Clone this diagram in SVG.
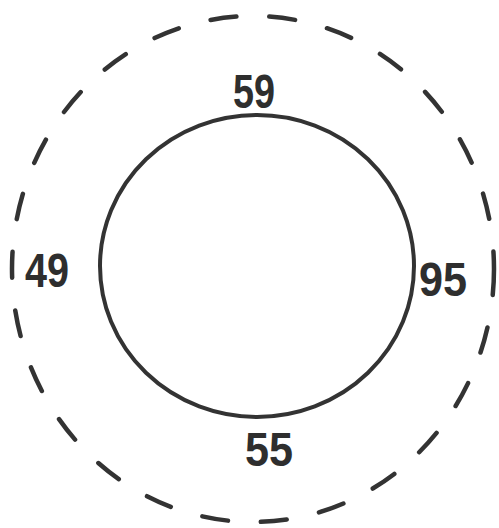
<svg xmlns="http://www.w3.org/2000/svg" width="499" height="528" viewBox="0 0 499 528">
<style>
.t{font-family:"Liberation Sans",Arial,sans-serif;font-weight:bold;font-size:49px;fill:#2e2e2e;text-anchor:middle}
.s{fill:none;stroke:#333;stroke-width:4}
.d{fill:none;stroke:#333;stroke-width:4.5;stroke-dasharray:26 33;stroke-linecap:round}
</style>
<rect width="499" height="528" fill="#fff"/>
<g id="outer"><ellipse class="d" cx="253" cy="269" rx="241" ry="253"/></g>
<g id="inner"><ellipse class="s" cx="257" cy="266" rx="157" ry="151"/></g>
<g id="labels">
<text class="t" x="254" y="108" textLength="42" lengthAdjust="spacingAndGlyphs">59</text>
<text class="t" x="47" y="287" textLength="44" lengthAdjust="spacingAndGlyphs">49</text>
<text class="t" x="443" y="296" textLength="48" lengthAdjust="spacingAndGlyphs">95</text>
<text class="t" x="269" y="466" textLength="48" lengthAdjust="spacingAndGlyphs">55</text>
</g>
<g id="connectors"/>
</svg>
